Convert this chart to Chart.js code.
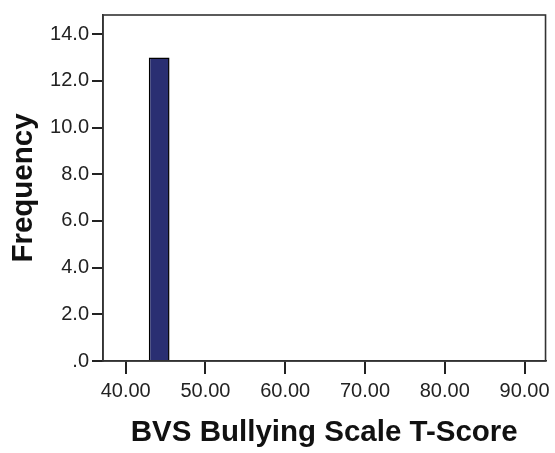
<!DOCTYPE html>
<html><head><meta charset="utf-8">
<script src="https://cdn.jsdelivr.net/npm/chart.js@4"></script>
<style>html,body{margin:0;padding:0;background:#fff}</style>
</head><body>
<canvas id="c" width="555" height="453" style="width:555px;height:453px;display:block"></canvas>
<script>
// Histogram data
const binStarts = [42.9];
const binEnds = [45.5];
const frequencies = [13];
const xTickValues = [40, 50, 60, 70, 80, 90];
const xTickLabels = ['40.00', '50.00', '60.00', '70.00', '80.00', '90.00'];
const yTickValues = [0, 2, 4, 6, 8, 10, 12, 14];
const yTickLabels = ['.0', '2.0', '4.0', '6.0', '8.0', '10.0', '12.0', '14.0'];
const xTitle = 'BVS Bullying Scale T-Score';
const yTitle = 'Frequency';

const FONT = "'Liberation Sans', Arial, Helvetica, sans-serif";
const tickStep = xTickValues[1] - xTickValues[0];
const binWidth = binEnds[0] - binStarts[0];

const points = frequencies.map((f, i) => ({ x: (binStarts[i] + binEnds[i]) / 2, y: f }));

const framePlugin = {
  id: 'frame',
  afterDatasetsDraw(chart) {
    const { ctx, chartArea: a } = chart;
    ctx.save();
    ctx.strokeStyle = '#333';
    ctx.lineWidth = 1.6;
    ctx.strokeRect(a.left, a.top, a.right - a.left, a.bottom - a.top);
    ctx.restore();
  }
};

new Chart(document.getElementById('c'), {
  type: 'bar',
  data: {
    datasets: [{
      data: points,
      backgroundColor: '#2a2f72',
      borderColor: '#000000',
      borderWidth: 1.5,
      barPercentage: binWidth / tickStep,
      categoryPercentage: 1
    }]
  },
  options: {
    responsive: false,
    animation: false,
    devicePixelRatio: 1,
    layout: { padding: { top: 15, right: 9, left: 0, bottom: 0 } },
    plugins: { legend: { display: false }, tooltip: { enabled: false } },
    scales: {
      x: {
        type: 'linear',
        offset: false,
        min: 37.16,
        max: 92.63,
        afterBuildTicks(s) { s.ticks = xTickValues.map(v => ({ value: v })); },
        afterFit(s) { s.height = 92; },
        ticks: {
          callback: (v, i) => xTickLabels[i],
          font: { family: FONT, size: 20 },
          color: '#222',
          padding: 5,
          maxRotation: 0,
          autoSkip: false
        },
        grid: { offset: false, drawOnChartArea: false, drawTicks: true, tickLength: 13, color: '#222', lineWidth: 2 },
        border: { display: true, color: '#333', width: 1.6 },
        title: { display: true, text: xTitle, font: { family: FONT, size: 29.5, weight: 'bold' }, color: '#111', padding: { top: 0, bottom: 2 } }
      },
      y: {
        type: 'linear',
        min: 0,
        max: 14.82,
        afterBuildTicks(s) { s.ticks = yTickValues.map(v => ({ value: v })); },
        afterFit(s) { s.width = 103; },
        ticks: {
          callback: (v, i) => yTickLabels[i],
          font: { family: FONT, size: 20 },
          color: '#222',
          padding: 3,
          autoSkip: false
        },
        grid: { drawOnChartArea: false, drawTicks: true, tickLength: 11, color: '#222', lineWidth: 2 },
        border: { display: true, color: '#333', width: 1.6 },
        title: { display: true, text: yTitle, font: { family: FONT, size: 29.5, weight: 'bold' }, color: '#111', padding: { top: 6, bottom: 0 } }
      }
    }
  },
  plugins: [framePlugin]
});
</script>
</body></html>
